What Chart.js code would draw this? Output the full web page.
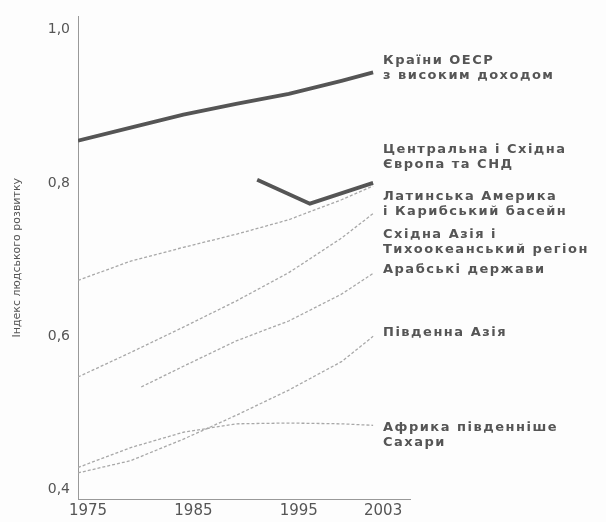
<!DOCTYPE html>
<html>
<head>
<meta charset="utf-8">
<script src="https://cdn.jsdelivr.net/npm/chart.js@4/dist/chart.umd.min.js"></script>
<style>
  body { margin: 0; background: #fdfdfd; }
  canvas { display: block; }
</style>
</head>
<body>
<canvas id="hdiChart" width="606" height="522"></canvas>
<script>
// data
const years = [1975, 1980, 1985, 1990, 1995, 2000, 2003];
const oecd = [0.855, 0.872, 0.889, 0.903, 0.916, 0.933, 0.944];
const latinAmerica = [0.673, 0.698, 0.716, 0.733, 0.752, 0.778, 0.796];
const eastAsia = [0.547, 0.579, 0.612, 0.646, 0.683, 0.728, 0.760];
const southAsia = [0.422, 0.438, 0.466, 0.497, 0.530, 0.567, 0.600];
const africa = [0.429, 0.455, 0.475, 0.486, 0.487, 0.486, 0.484];
const ceeYears = [1992, 1997, 2003];
const cee = [0.804, 0.773, 0.800];
const arabYears = [1981, 1985, 1990, 1995, 2000, 2003];
const arab = [0.534, 0.561, 0.594, 0.620, 0.655, 0.682];

const xTicks = [1975, 1985, 1995, 2003];
const yTicks = [0.4, 0.6, 0.8, 1.0];

// region names shown to the right of the lines
const regionLabels = [
  { lines: ['Країни ОЕСР', 'з високим доходом'], y: 61 },
  { lines: ['Центральна і Східна', 'Європа та СНД'], y: 150 },
  { lines: ['Латинська Америка', 'і Карибський басейн'], y: 197 },
  { lines: ['Східна Азія і', 'Тихоокеанський регіон'], y: 235 },
  { lines: ['Арабські держави'], y: 270 },
  { lines: ['Південна Азія'], y: 333 },
  { lines: ['Африка південніше', 'Сахари'], y: 428 }
];

const textColor = '#555';
const darkLine = '#555';
const lightLine = '#a8a8a8';

function pts(xs, ys) {
  return xs.map((x, i) => ({ x: x, y: ys[i] }));
}

function thin(data) {
  return { data: data, borderColor: lightLine, borderWidth: 1.3, borderDash: [3, 2], pointRadius: 0, fill: false };
}

function thick(data) {
  return { data: data, borderColor: darkLine, borderWidth: 3.8, pointRadius: 0, fill: false, borderJoinStyle: 'miter' };
}

const labelsPlugin = {
  id: 'regionLabels',
  afterDraw(chart) {
    const ctx = chart.ctx;
    ctx.save();
    ctx.font = 'bold 13px "DejaVu Sans"';
    if ('letterSpacing' in ctx) ctx.letterSpacing = '1.5px';
    ctx.fillStyle = textColor;
    ctx.textBaseline = 'middle';
    regionLabels.forEach(l => {
      l.lines.forEach((t, i) => ctx.fillText(t, 383, l.y + i * 15));
    });
    ctx.restore();
  }
};

new Chart(document.getElementById('hdiChart').getContext('2d'), {
  type: 'line',
  data: {
    datasets: [
      thick(pts(years, oecd)),
      thick(pts(ceeYears, cee)),
      thin(pts(years, latinAmerica)),
      thin(pts(years, eastAsia)),
      thin(pts(arabYears, arab)),
      thin(pts(years, southAsia)),
      thin(pts(years, africa))
    ]
  },
  options: {
    responsive: false,
    animation: false,
    layout: { padding: { top: 7, right: 196, left: 0, bottom: 0 } },
    plugins: { legend: { display: false }, tooltip: { enabled: false } },
    scales: {
      x: {
        type: 'linear',
        min: 1975,
        max: 2006.5,
        afterBuildTicks: s => { s.ticks = xTicks.map(v => ({ value: v })); },
        afterFit: s => { s.height = 23; },
        grid: { display: false, drawTicks: false },
        border: { color: '#999', dash: [2, 2], width: 1 },
        ticks: {
          autoSkip: false,
          maxRotation: 0,
          labelOffset: 10,
          padding: 3,
          color: textColor,
          font: { family: 'DejaVu Sans', size: 15 },
          callback: v => String(v)
        }
      },
      y: {
        min: 0.388,
        max: 1.017,
        afterBuildTicks: s => { s.ticks = yTicks.map(v => ({ value: v })); },
        afterFit: s => { s.width = 78; },
        grid: { display: false, drawTicks: false },
        border: { color: '#999', dash: [2, 2], width: 1 },
        ticks: {
          padding: 8,
          color: textColor,
          font: { family: 'DejaVu Sans', size: 14 },
          callback: v => v.toFixed(1).replace('.', ',')
        },
        title: {
          display: true,
          text: 'Індекс людського розвитку',
          color: textColor,
          font: { family: 'DejaVu Sans', size: 11 },
          padding: { top: 11, bottom: 0 }
        }
      }
    }
  },
  plugins: [labelsPlugin]
});
</script>
</body>
</html>
